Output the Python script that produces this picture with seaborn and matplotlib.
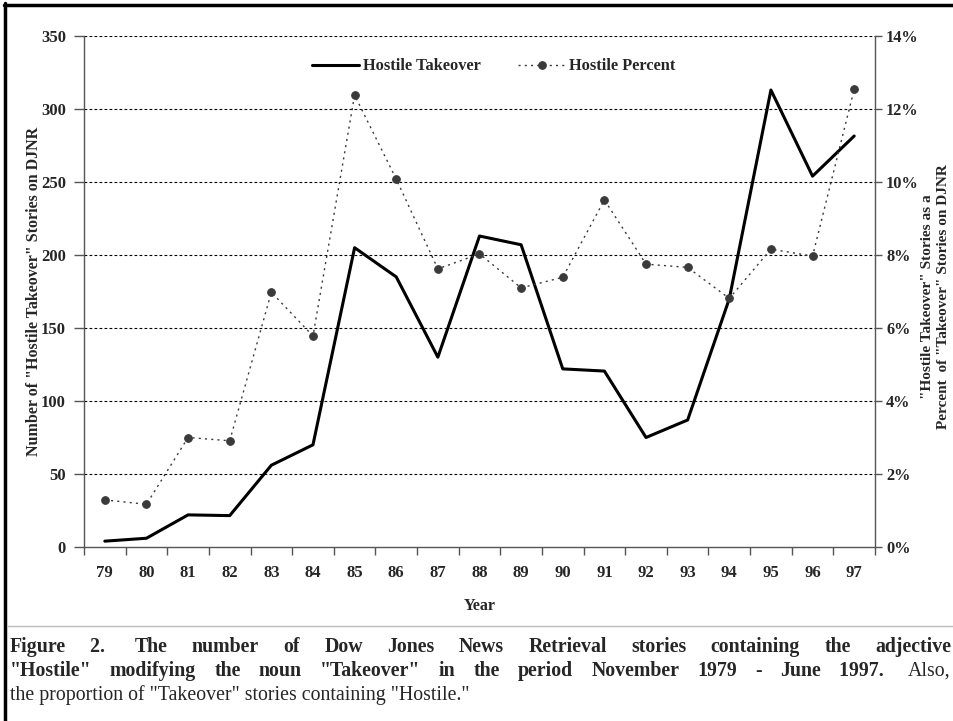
import matplotlib
matplotlib.use("Agg")
import matplotlib.pyplot as plt
import seaborn as sns
import pandas as pd
import numpy as np
from matplotlib.lines import Line2D
from matplotlib.ticker import FuncFormatter, FixedLocator

years = ["79", "80", "81", "82", "83", "84", "85", "86", "87", "88",
         "89", "90", "91", "92", "93", "94", "95", "96", "97"]
hostile_takeover = [4, 6, 22, 21.5, 56, 70, 205, 185, 130, 213,
                    207, 122, 120.5, 75, 87, 170, 313, 254, 281.5]
hostile_percent = [1.29, 1.17, 3.0, 2.91, 6.98, 5.78, 12.38, 10.08, 7.62, 8.03,
                   7.10, 7.39, 9.51, 7.75, 7.66, 6.81, 8.16, 7.97, 12.54]
left_ticks = [0, 50, 100, 150, 200, 250, 300, 350]
right_ticks = [0, 2, 4, 6, 8, 10, 12, 14]

caption_line1 = [("Figure", "bold"), ("2. ", "bold"), ("The", "bold"), ("number", "bold"),
                 ("of", "bold"), ("Dow", "bold"), ("Jones", "bold"), ("News", "bold"),
                 ("Retrieval", "bold"), ("stories", "bold"), ("containing", "bold"),
                 ("the", "bold"), ("adjective", "bold")]
caption_line2 = [('"Hostile"', "bold"), ("modifying", "bold"), ("the", "bold"),
                 ("noun", "bold"), ('"Takeover"', "bold"), ("in", "bold"), ("the", "bold"),
                 ("period", "bold"), ("November", "bold"), ("1979", "bold"), ("-", "bold"),
                 ("June", "bold"), ("1997. ", "bold"), ("Also,", "normal")]
caption_line3 = 'the proportion of "Takeover" stories containing "Hostile."'

df = pd.DataFrame({"pos": np.arange(len(years)), "year": years,
                   "takeover": hostile_takeover, "percent": hostile_percent})

sns.set_theme(style="white")
plt.rcParams["font.family"] = ["Liberation Serif", "DejaVu Serif"]
plt.rcParams["font.weight"] = "bold"

W, H = 954, 721
fig = plt.figure(figsize=(W / 100, H / 100), dpi=100)
fig.patch.set_facecolor("white")

x0, x1, ytop, ybot = 84, 875, 36, 547
ax = fig.add_axes([x0 / W, 1 - ybot / H, (x1 - x0) / W, (ybot - ytop) / H])
ax2 = ax.twinx()

sns.lineplot(data=df, x="pos", y="percent", ax=ax2, color="#3a3a3a",
             linestyle=(0, (1.5, 3)), linewidth=1.0, marker="o", markersize=5.5,
             markeredgecolor="#3a3a3a", markerfacecolor="#3a3a3a",
             label="Hostile Percent", legend=False)
sns.lineplot(data=df, x="pos", y="takeover", ax=ax, color="black",
             linewidth=2.2, label="Hostile Takeover", legend=False)

n = len(years)
ax.set_xlim(-0.5, n - 0.5)
ax.set_ylim(0, 350)
ax2.set_ylim(0, 14)

for v in left_ticks[1:]:
    ax.axhline(v, color="black", linestyle=(0, (2.5, 2)), linewidth=0.8, zorder=0)

ax.set_yticks(left_ticks)
ax.set_yticklabels([str(v) for v in left_ticks])
ax2.set_yticks(right_ticks)
ax2.yaxis.set_major_formatter(FuncFormatter(lambda v, p: f"{int(v)}%"))

ax.xaxis.set_major_locator(FixedLocator(np.arange(-0.5, n, 1.0)))
ax.xaxis.set_major_formatter(FuncFormatter(lambda v, p: ""))
ax.xaxis.set_minor_locator(FixedLocator(np.arange(n)))
ax.set_xticklabels(years, minor=True)

spine_c = "#555555"
for a in (ax, ax2):
    for s in a.spines.values():
        s.set_visible(False)
ax.spines["left"].set_visible(True)
ax.spines["bottom"].set_visible(True)
ax2.spines["right"].set_visible(True)
for s in (ax.spines["left"], ax.spines["bottom"], ax2.spines["right"]):
    s.set_color(spine_c)
    s.set_linewidth(1.0)

ax.tick_params(axis="x", which="major", direction="out", length=6, width=1,
               color=spine_c, bottom=True)
ax.tick_params(axis="x", which="minor", length=0, pad=13, labelsize=12)
ax.tick_params(axis="y", direction="out", length=7, width=1, color=spine_c,
               left=True, labelsize=12, pad=6)
ax2.tick_params(axis="y", direction="out", length=5, width=1, color=spine_c,
                right=True, labelsize=11.8, pad=3)
for lab in ax.get_xticklabels(minor=True) + ax.get_yticklabels() + ax2.get_yticklabels():
    lab.set_fontweight("bold")

ax.set_xlabel("Year", fontsize=11.5, fontweight="bold", labelpad=12)
ax.set_ylabel('Number of "Hostile Takeover" Stories on DJNR', fontsize=11.5,
              fontweight="bold")
ax.yaxis.set_label_coords(-0.053, 0.5)
ax2.set_ylabel('"Hostile Takeover" Stories as a\nPercent  of "Takeover" Stories on DJNR',
               fontsize=11, fontweight="bold", rotation=90, linespacing=1.3)
ax2.yaxis.set_label_coords(1.058, 0.49)

h1, l1 = ax.get_legend_handles_labels()
h2, l2 = ax2.get_legend_handles_labels()
leg = ax2.legend(h1 + h2, l1 + l2, loc="upper center", bbox_to_anchor=(0.518, 0.985),
                 ncol=2, frameon=False, fontsize=11.8, handlelength=2.9,
                 columnspacing=2.3, handletextpad=0.2)
for t in leg.get_texts():
    t.set_fontweight("bold")

# frame and separator
fig.add_artist(Line2D([5.5 / W, 5.5 / W], [0, 1 - 3 / H], color="black", linewidth=2.5))
fig.add_artist(Line2D([4 / W, 1], [1 - 4.5 / H, 1 - 4.5 / H], color="black", linewidth=2.5))
fig.add_artist(Line2D([7 / W, 1], [1 - 626 / H, 1 - 626 / H], color="#bbbbbb", linewidth=1))

# caption
cap_fs = 14.3
renderer = fig.canvas.get_renderer()


def justified(words, ypix, xstart, xend):
    arts = []
    for w, wt in words:
        t = fig.text(0, 1 - ypix / H, w, fontsize=cap_fs, fontweight=wt,
                     va="center", ha="left")
        arts.append(t)
    widths = [a.get_window_extent(renderer=renderer).width for a in arts]
    gap = (xend - xstart - sum(widths)) / (len(arts) - 1)
    x = xstart
    for a, wdt in zip(arts, widths):
        a.set_x(x / W)
        x += wdt + gap


justified(caption_line1, 647, 10, 951)
justified(caption_line2, 671, 10, 950)
fig.text(10 / W, 1 - 695 / H, caption_line3, fontsize=cap_fs, fontweight="normal",
         va="center", ha="left")

fig.savefig("out.png", dpi=100, facecolor="white")
